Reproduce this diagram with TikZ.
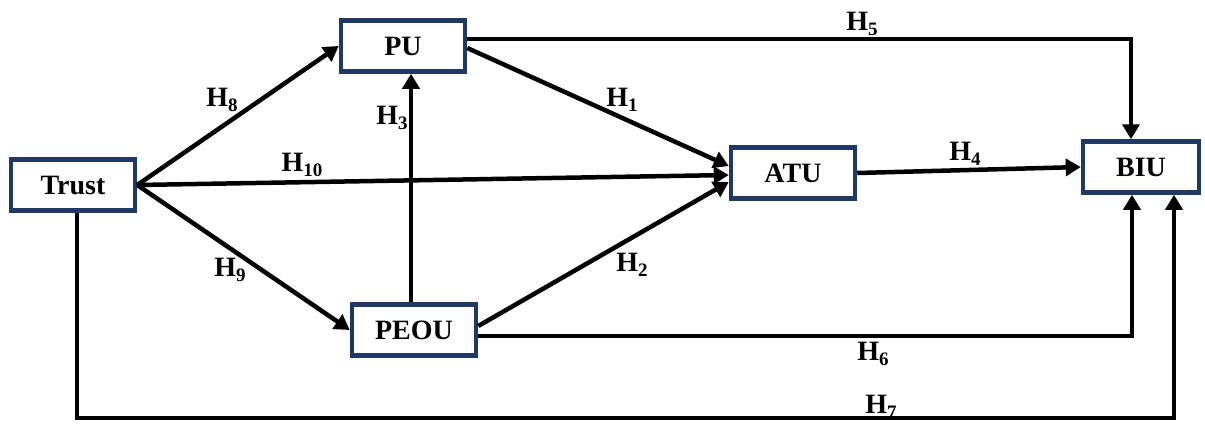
\documentclass[tikz,border=0pt]{standalone}
\usepackage{fontspec}
\setmainfont{Liberation Serif}
\usetikzlibrary{arrows.meta,calc}
\definecolor{boxnavy}{HTML}{1F3864}
\newcommand{\hyp}[1]{H\raisebox{-5pt}{\fontsize{19}{19}\selectfont #1}}
\tikzset{
  box/.style={draw=boxnavy, line width=4.5pt, fill=white, minimum width=124pt, minimum height=51pt, inner sep=0pt,
    font=\fontsize{28}{30}\selectfont\bfseries},
  arr/.style={draw=black, line width=4.5pt, -{Triangle[length=15pt,width=17pt]}},
  lbl/.style={font=\fontsize{28}{30}\selectfont\bfseries, inner sep=0pt}
}
\begin{document}
\begin{tikzpicture}[x=1pt,y=-1pt]
\useasboundingbox (0,0) rectangle (1205,424);
\node[box] (Trust) at (73,185) {Trust};
\node[box] (PU) at (403,46) {PU};
\node[box] (PEOU) at (414,330) {PEOU};
\node[box] (ATU) at (793,173) {ATU};
\node[box, minimum width=116pt] (BIU) at (1141,167) {BIU};
\coordinate (h3x) at (411,0);
\coordinate (bot) at (0,418);
% connectors
\draw[arr] (Trust.east) -- (PU.west);
\draw[arr] (Trust.east) -- (PEOU.west);
\draw[arr] (Trust.east) -- ([yshift=-2pt]ATU.west);
\draw[arr] ([yshift=-2pt]PU.east) -- ([yshift=7pt]ATU.west);
\draw[arr] ([yshift=4pt]PEOU.east) -- ([yshift=-9pt]ATU.west);
\draw[arr] (PEOU.north -| h3x) -- (PU.south -| h3x);
\draw[arr] (ATU.east) -- (BIU.west);
\draw[arr] ([yshift=7pt]PU.east) -| ([xshift=-10pt]BIU.north);
\draw[arr] ([yshift=-6pt]PEOU.east) -| ([xshift=-9pt]BIU.south);
\draw[arr] ([xshift=4pt]Trust.south) -- ([xshift=4pt]Trust.south |- bot) -| ([xshift=33pt]BIU.south);
% labels
\node[lbl] (l8) at (222,100) {\hyp{8}};
\node[lbl] (l10) at (302,165) {\hyp{10}};
\node[lbl] (l9) at (230,270) {\hyp{9}};
\node[lbl] (l3) at (392,118) {\hyp{3}};
\node[lbl] (l1) at (622,100) {\hyp{1}};
\node[lbl] (l2) at (632,265) {\hyp{2}};
\node[lbl] (l4) at (965,154) {\hyp{4}};
\node[lbl] (l5) at (862,24) {\hyp{5}};
\node[lbl] (l6) at (873,354) {\hyp{6}};
\node[lbl] (l7) at (881,407) {\hyp{7}};
\end{tikzpicture}
\end{document}
